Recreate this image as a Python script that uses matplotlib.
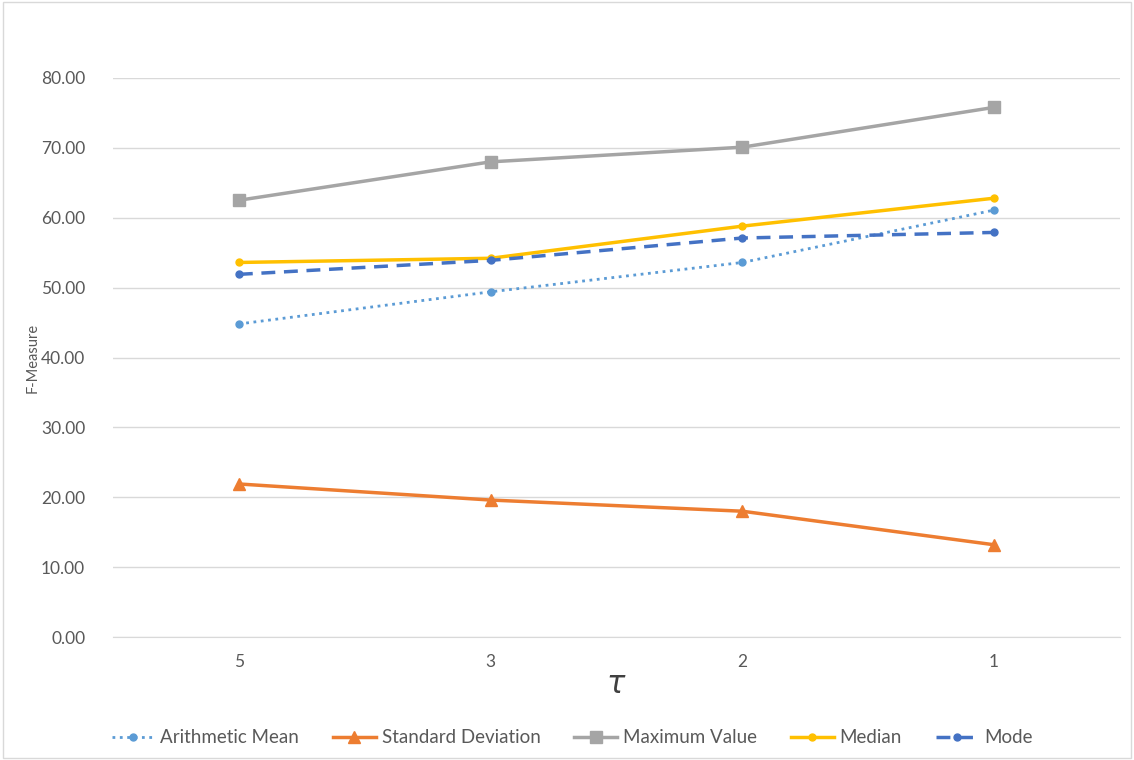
import matplotlib
matplotlib.use("Agg")
import matplotlib.pyplot as plt
from matplotlib.patches import Rectangle

plt.rcParams['font.family'] = ['Lato', 'DejaVu Sans']

tau = ["5", "3", "2", "1"]
arith_mean = [44.8, 49.4, 53.6, 61.1]
std_dev = [21.9, 19.6, 18.0, 13.2]
max_value = [62.5, 68.0, 70.1, 75.8]
median = [53.6, 54.2, 58.8, 62.8]
mode = [51.9, 53.9, 57.1, 57.9]

fig = plt.figure(figsize=(11.34, 7.6), dpi=100)
ax = fig.add_axes([113 / 1134, 123 / 760, 1007 / 1134, 559 / 760])

x = range(len(tau))
ax.plot(x, arith_mean, color='#5B9BD5', linestyle=':', linewidth=2,
        marker='o', markersize=5, label='Arithmetic Mean')
ax.plot(x, std_dev, color='#ED7D31', linewidth=2.5,
        marker='^', markersize=9, label='Standard Deviation')
ax.plot(x, max_value, color='#A5A5A5', linewidth=2.5,
        marker='s', markersize=9, label='Maximum Value')
ax.plot(x, median, color='#FFC000', linewidth=2.5,
        marker='o', markersize=5, label='Median')
ax.plot(x, mode, color='#4472C4', linestyle=(0, (4, 2.5)), linewidth=2.5,
        marker='o', markersize=5, label='Mode')

ax.set_xlim(-0.5, len(tau) - 0.5)
ax.set_ylim(0, 80)
ax.set_yticks(range(0, 81, 10))
ax.set_yticklabels([f"{v:.2f}" for v in range(0, 81, 10)])
ax.set_xticks(list(x))
ax.set_xticklabels(tau)

ax.grid(axis='y', color='#D9D9D9', linewidth=1)
ax.set_axisbelow(True)
for s in ['top', 'right', 'left']:
    ax.spines[s].set_visible(False)
ax.spines['bottom'].set_color('#D9D9D9')
ax.tick_params(axis='both', length=0, colors='#595959', labelsize=12.5)
ax.tick_params(axis='y', pad=20)
ax.tick_params(axis='x', pad=12)

ax.set_ylabel("F-Measure", fontsize=10.5, color='#595959')
ax.yaxis.set_label_coords(-0.073, 0.5)
ax.set_xlabel(r"$\tau$", fontsize=22, color='#404040', labelpad=0)

ax.legend(loc='upper center', bbox_to_anchor=(0.456, -0.135), ncol=5,
          frameon=False, fontsize=13.5, handlelength=2.3, columnspacing=1.8,
          handletextpad=0.3, labelcolor='#595959')

fig.patches.append(Rectangle((0.003, 0.003), 0.994, 0.994, transform=fig.transFigure,
                             fill=False, edgecolor='#D9D9D9', linewidth=1))

fig.savefig("out.png", dpi=100)
